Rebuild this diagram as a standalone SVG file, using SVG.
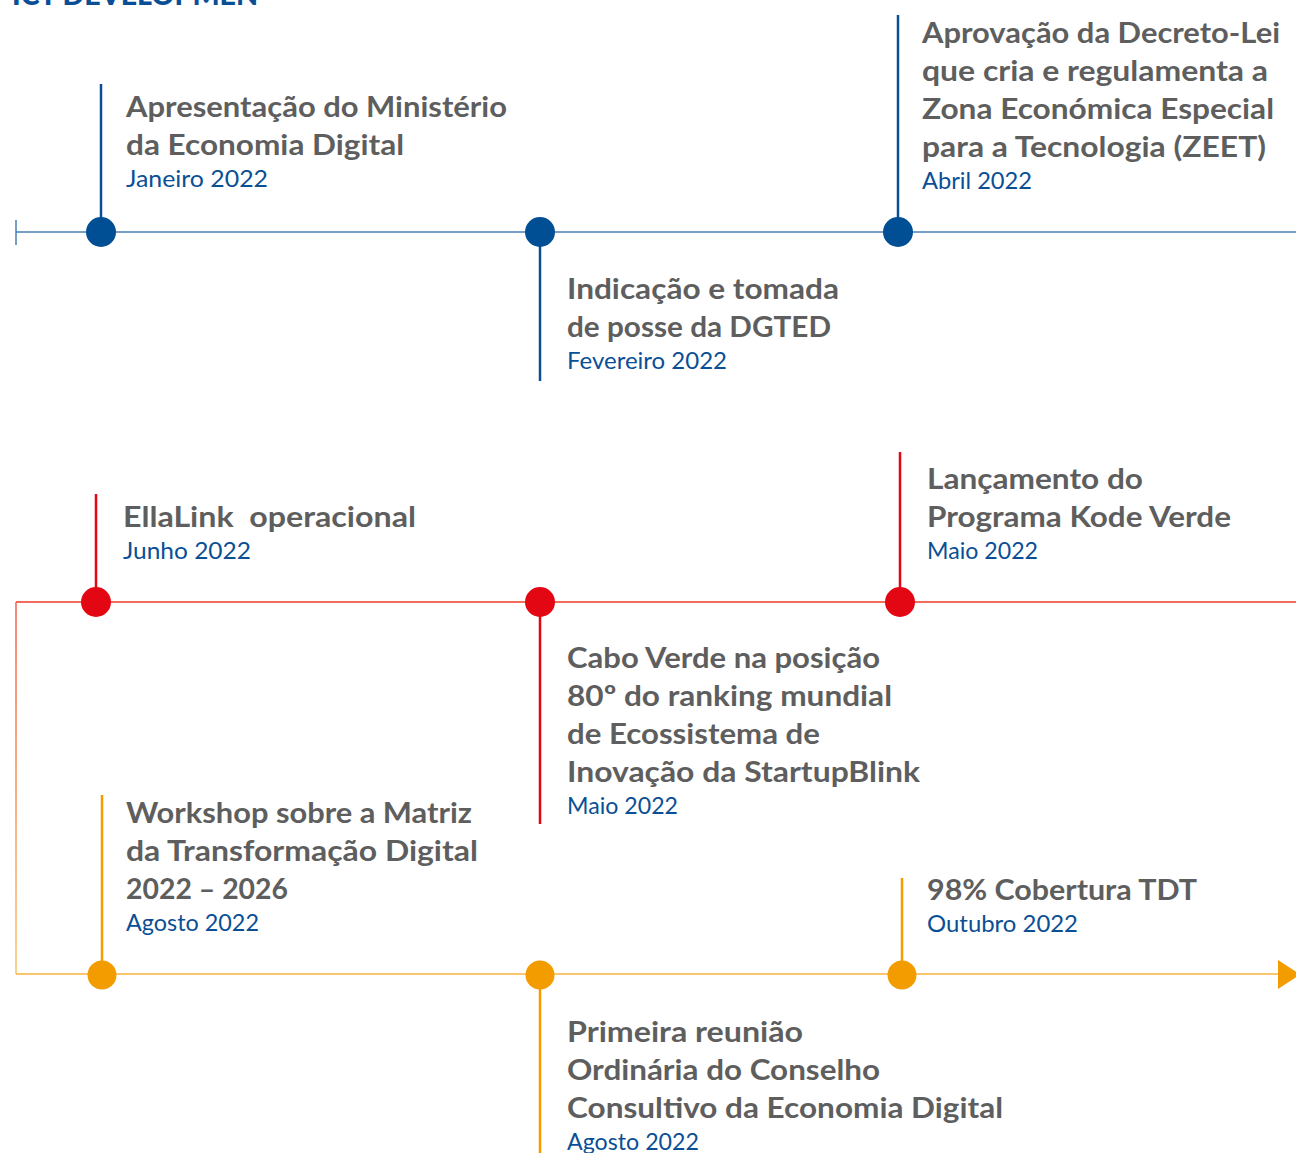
<svg xmlns="http://www.w3.org/2000/svg" width="1296" height="1153" viewBox="0 0 1296 1153">
<defs>
<style>
.t{font-family:Lato,"Liberation Sans",sans-serif;font-weight:700;font-size:29px;fill:#5e5e5e}
.d{font-family:Lato,"Liberation Sans",sans-serif;font-weight:400;font-size:24px;fill:#0a4f95}
.h{font-family:Lato,"Liberation Sans",sans-serif;font-weight:900;font-size:28px;fill:#0a4f95}
.bl{stroke:#0a4f95;stroke-width:2.5;fill:none}
.rl{stroke:#e30613;stroke-width:2.5;fill:none}
.ol{stroke:#f39c00;stroke-width:2.5;fill:none}
.bn{fill:#004f95}
.rn{fill:#e30613}
.on{fill:#f39c00}
</style>
<linearGradient id="lg" gradientUnits="userSpaceOnUse" x1="16" y1="602" x2="16" y2="974">
<stop offset="0" stop-color="#f0624d"/>
<stop offset="1" stop-color="#f9c26a"/>
</linearGradient>
</defs>
<rect width="1296" height="1153" fill="#fff"/>
<text class="h" x="12" y="5" textLength="246" lengthAdjust="spacingAndGlyphs">ICT DEVELOPMEN</text>

<g id="connectors">
<path d="M16 232H1296M16 220V245" stroke="#4a80b6" stroke-width="1.5" fill="none"/>
<path d="M16 602H1296" stroke="#ef3a24" stroke-width="1.5" fill="none"/>
<path d="M16 602V974" stroke="url(#lg)" stroke-width="1.5" fill="none"/>
<path d="M16 974H1282" stroke="#f7b33d" stroke-width="1.5" fill="none"/>
<polygon points="1278,960 1300,974.5 1278,989" fill="#f39c00"/>
<path class="bl" d="M101 84V232M540 232V381M898 15V232"/>
<path class="rl" d="M96 494V602M540 602V824M900 452V602"/>
<path class="ol" d="M102 795V975M540 975V1153M902 878V975"/>
</g>

<g id="n1">
<circle class="bn" cx="101" cy="232" r="15"/>
<text class="t" x="126" y="117" textLength="381" lengthAdjust="spacingAndGlyphs">Apresentação do Ministério</text>
<text class="t" x="126" y="155" textLength="278" lengthAdjust="spacingAndGlyphs">da Economia Digital</text>
<text class="d" x="126" y="187" textLength="142" lengthAdjust="spacingAndGlyphs">Janeiro 2022</text>
</g>
<g id="n2">
<circle class="bn" cx="540" cy="232" r="15"/>
<text class="t" x="567" y="299" textLength="272" lengthAdjust="spacingAndGlyphs">Indicação e tomada</text>
<text class="t" x="567" y="337" textLength="264" lengthAdjust="spacingAndGlyphs">de posse da DGTED</text>
<text class="d" x="567" y="369" textLength="160" lengthAdjust="spacingAndGlyphs">Fevereiro 2022</text>
</g>
<g id="n3">
<circle class="bn" cx="898" cy="232" r="15"/>
<text class="t" x="922" y="43" textLength="358" lengthAdjust="spacingAndGlyphs">Aprovação da Decreto-Lei</text>
<text class="t" x="922" y="81" textLength="346" lengthAdjust="spacingAndGlyphs">que cria e regulamenta a</text>
<text class="t" x="922" y="119" textLength="352" lengthAdjust="spacingAndGlyphs">Zona Económica Especial</text>
<text class="t" x="922" y="157" textLength="344" lengthAdjust="spacingAndGlyphs">para a Tecnologia (ZEET)</text>
<text class="d" x="922" y="189" textLength="110" lengthAdjust="spacingAndGlyphs">Abril 2022</text>
</g>
<g id="n4">
<circle class="rn" cx="96" cy="602" r="15"/>
<text class="t" x="123" y="527" textLength="293" lengthAdjust="spacingAndGlyphs" xml:space="preserve">EllaLink  operacional</text>
<text class="d" x="123" y="559" textLength="128" lengthAdjust="spacingAndGlyphs">Junho 2022</text>
</g>
<g id="n5">
<circle class="rn" cx="540" cy="602" r="15"/>
<text class="t" x="567" y="668" textLength="313" lengthAdjust="spacingAndGlyphs">Cabo Verde na posição</text>
<text class="t" x="567" y="706" textLength="325" lengthAdjust="spacingAndGlyphs">80º do ranking mundial</text>
<text class="t" x="567" y="744" textLength="253" lengthAdjust="spacingAndGlyphs">de Ecossistema de</text>
<text class="t" x="567" y="782" textLength="353" lengthAdjust="spacingAndGlyphs">Inovação da StartupBlink</text>
<text class="d" x="567" y="814" textLength="111" lengthAdjust="spacingAndGlyphs">Maio 2022</text>
</g>
<g id="n6">
<circle class="rn" cx="900" cy="602" r="15"/>
<text class="t" x="927" y="489" textLength="216" lengthAdjust="spacingAndGlyphs">Lançamento do</text>
<text class="t" x="927" y="527" textLength="304" lengthAdjust="spacingAndGlyphs">Programa Kode Verde</text>
<text class="d" x="927" y="559" textLength="111" lengthAdjust="spacingAndGlyphs">Maio 2022</text>
</g>
<g id="n7">
<circle class="on" cx="102" cy="975" r="14.5"/>
<text class="t" x="126" y="823" textLength="346" lengthAdjust="spacingAndGlyphs">Workshop sobre a Matriz</text>
<text class="t" x="126" y="861" textLength="352" lengthAdjust="spacingAndGlyphs">da Transformação Digital</text>
<text class="t" x="126" y="899" textLength="162" lengthAdjust="spacingAndGlyphs">2022 – 2026</text>
<text class="d" x="126" y="931" textLength="133" lengthAdjust="spacingAndGlyphs">Agosto 2022</text>
</g>
<g id="n8">
<circle class="on" cx="540" cy="975" r="14.5"/>
<text class="t" x="567" y="1042" textLength="236" lengthAdjust="spacingAndGlyphs">Primeira reunião</text>
<text class="t" x="567" y="1080" textLength="313" lengthAdjust="spacingAndGlyphs">Ordinária do Conselho</text>
<text class="t" x="567" y="1118" textLength="436" lengthAdjust="spacingAndGlyphs">Consultivo da Economia Digital</text>
<text class="d" x="567" y="1150" textLength="132" lengthAdjust="spacingAndGlyphs">Agosto 2022</text>
</g>
<g id="n9">
<circle class="on" cx="902" cy="975" r="14.5"/>
<text class="t" x="927" y="900" textLength="270" lengthAdjust="spacingAndGlyphs">98% Cobertura TDT</text>
<text class="d" x="927" y="932" textLength="151" lengthAdjust="spacingAndGlyphs">Outubro 2022</text>
</g>
</svg>
